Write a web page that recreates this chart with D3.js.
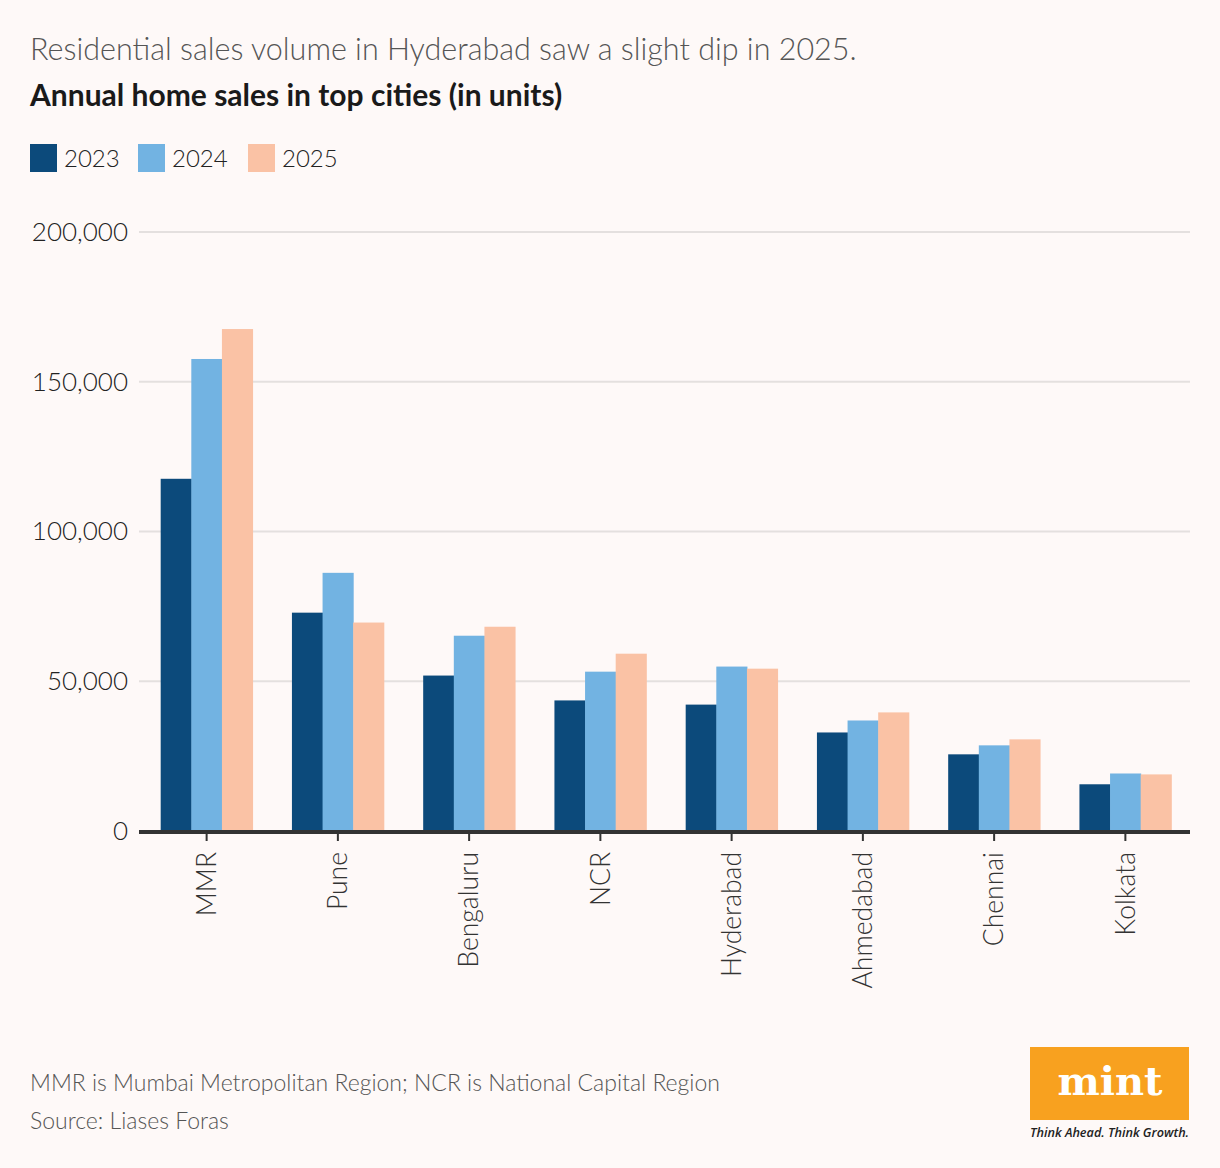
<!DOCTYPE html>
<html>
<head>
<meta charset="utf-8">
<script src="https://cdn.jsdelivr.net/npm/d3@7"></script>
<style>
  body { margin: 0; background: #fef9f8; }
  svg { display: block; font-family: Lato, "Open Sans", sans-serif; }
</style>
</head>
<body>
<svg id="chart"></svg>
<script>
// chart data (units sold)
var cities = ["MMR", "Pune", "Bengaluru", "NCR", "Hyderabad", "Ahmedabad", "Chennai", "Kolkata"]
var years = ["2023", "2024", "2025"]
var sales2023 = [117600, 72900, 51900, 43600, 42200, 32900, 25600, 15600]
var sales2024 = [157600, 86200, 65200, 53200, 54900, 36900, 28600, 19200]
var sales2025 = [167600, 69600, 68200, 59200, 54200, 39600, 30600, 18900]
var yTicks = [0, 50000, 100000, 150000, 200000]
var yearColors = ["#0c4a7b", "#72b3e2", "#fac2a5"]

var width = 1220
var height = 1168
var margin = { top: 232, right: 29, bottom: 337, left: 141 }

var svg = d3.select("#chart")
    .attr("width", width)
    .attr("height", height)

svg.append("rect")
    .attr("width", width)
    .attr("height", height)
    .attr("fill", "#fef9f8")

// titles
svg.append("text")
    .attr("x", 30).attr("y", 60)
    .attr("font-size", 30.5)
    .attr("font-weight", 300)
    .attr("fill", "#555")
    .text("Residential sales volume in Hyderabad saw a slight dip in 2025.")

svg.append("text")
    .attr("x", 30).attr("y", 106)
    .attr("font-size", 30)
    .attr("font-weight", 700)
    .attr("fill", "#1a1a1a")
    .text("Annual home sales in top cities (in units)")

// legend
var legendX = [30, 138, 248]
var legend = svg.append("g").selectAll("g")
    .data(years)
    .enter().append("g")
    .attr("transform", (d, i) => "translate(" + legendX[i] + ",144)")

legend.append("rect")
    .attr("width", 27).attr("height", 28)
    .attr("fill", (d, i) => yearColors[i])

legend.append("text")
    .attr("x", 34).attr("y", 23)
    .attr("font-size", 24)
    .attr("font-weight", 300)
    .attr("fill", "#222")
    .text((d) => d)

// scales
var x0 = d3.scaleBand()
    .domain(cities)
    .range([margin.left, width - margin.right])
    .paddingInner(0.3)
    .paddingOuter(0.15)

var x1 = d3.scaleBand()
    .domain(years)
    .range([0, x0.bandwidth()])

var y = d3.scaleLinear()
    .domain([0, 200000])
    .range([height - margin.bottom, margin.top])

// gridlines
svg.append("g").selectAll("line")
    .data(yTicks.filter((d) => d > 0))
    .enter().append("line")
    .attr("x1", 139).attr("x2", width - 30)
    .attr("y1", (d) => y(d)).attr("y2", (d) => y(d))
    .attr("stroke", "#e4e0df")
    .attr("stroke-width", 2)

// y axis labels
var yAxis = svg.append("g")
    .attr("transform", "translate(128,0)")
    .call(d3.axisLeft(y).tickValues(yTicks).tickSize(0).tickPadding(0).tickFormat(d3.format(",")))
yAxis.select(".domain").remove()
yAxis.selectAll("text")
    .attr("font-family", "Lato, sans-serif")
    .attr("font-size", 26)
    .attr("font-weight", 300)
    .attr("fill", "#222")

// bars
var series = [sales2023, sales2024, sales2025]
var groups = svg.append("g").selectAll("g")
    .data(cities)
    .enter().append("g")
    .attr("transform", (d) => "translate(" + x0(d) + ",0)")

groups.selectAll("rect")
    .data((d, i) => years.map((yr, j) => ({ year: yr, value: series[j][i], k: j })))
    .enter().append("rect")
    .attr("x", (d) => x1(d.year))
    .attr("width", x1.bandwidth() + 0.5)
    .attr("y", (d) => y(d.value))
    .attr("height", (d) => y(0) - y(d.value))
    .attr("fill", (d) => yearColors[d.k])

// x axis
var xAxis = svg.append("g")
    .attr("transform", "translate(0," + (y(0) + 1) + ")")
    .call(d3.axisBottom(x0).tickSize(9).tickPadding(0).tickSizeOuter(0))
xAxis.select(".domain")
    .attr("d", "M139,0H" + (width - 30))
    .attr("stroke", "#333")
    .attr("stroke-width", 4)
xAxis.selectAll(".tick line")
    .attr("stroke", "#333")
    .attr("stroke-width", 2)
xAxis.selectAll("text")
    .attr("font-family", "Lato, sans-serif")
    .attr("font-size", 26.5)
    .attr("font-weight", 300)
    .attr("fill", "#333")
    .attr("transform", "rotate(-90)")
    .attr("text-anchor", "end")
    .attr("x", -20)
    .attr("y", 0)
    .attr("dy", "0.35em")

// footnotes
svg.append("text")
    .attr("x", 30).attr("y", 1091)
    .attr("font-size", 23)
    .attr("font-weight", 300)
    .attr("fill", "#555")
    .text("MMR is Mumbai Metropolitan Region; NCR is National Capital Region")

svg.append("text")
    .attr("x", 30).attr("y", 1129)
    .attr("font-size", 23)
    .attr("font-weight", 300)
    .attr("fill", "#555")
    .text("Source: Liases Foras")

// mint logo
var logo = svg.append("g").attr("transform", "translate(1030,1047)")
logo.append("rect")
    .attr("width", 159).attr("height", 73)
    .attr("fill", "#f8a11f")
logo.append("text")
    .attr("x", 80).attr("y", 48)
    .attr("text-anchor", "middle")
    .attr("font-family", "DejaVu Serif, serif")
    .attr("font-weight", 700)
    .attr("font-size", 40)
    .attr("fill", "#fff")
    .text("mint")
logo.append("text")
    .attr("x", 0).attr("y", 90)
    .attr("font-family", "Open Sans, sans-serif")
    .attr("font-style", "italic")
    .attr("font-weight", 600)
    .attr("font-size", 13)
    .attr("fill", "#222")
    .attr("textLength", 159)
    .attr("lengthAdjust", "spacingAndGlyphs")
    .text("Think Ahead. Think Growth.")
</script>
</body>
</html>
